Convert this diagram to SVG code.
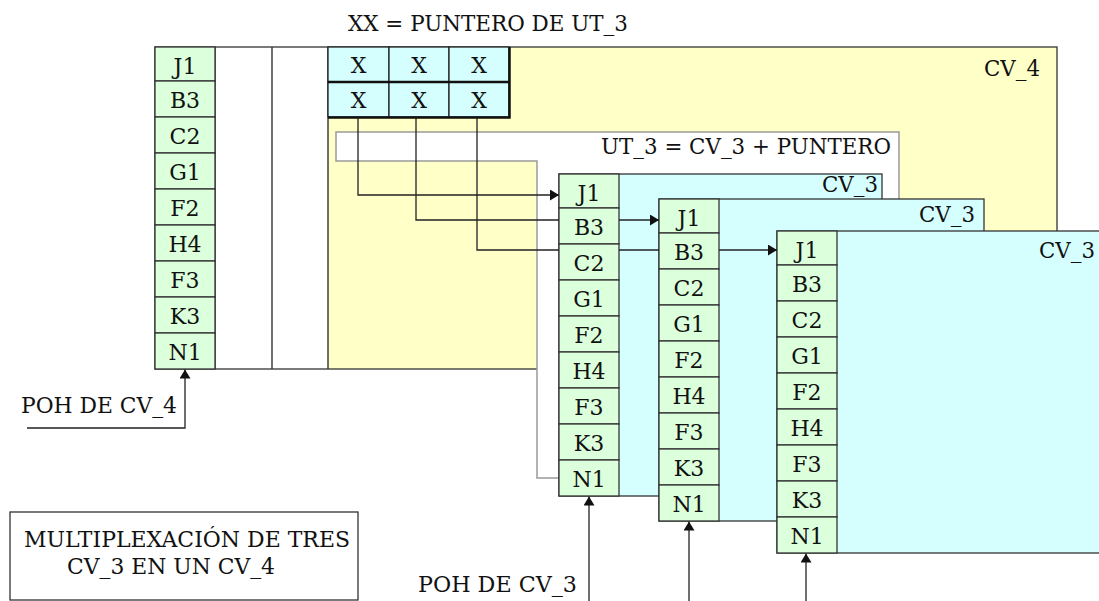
<svg xmlns="http://www.w3.org/2000/svg" width="1099" height="601" viewBox="0 0 1099 601">
<defs>
<marker id="ah" markerUnits="userSpaceOnUse" markerWidth="9" markerHeight="11" viewBox="0 0 9 11" refX="9" refY="5.5" orient="auto"><path d="M0,0 L9,5.5 L0,11 Z" fill="#111"/></marker>
</defs>
<style>
text{font-family:'DejaVu Serif',serif;fill:#111}
.t{font-size:23px}
.c{font-size:22px;text-anchor:middle}
.lbl{font-size:22px;text-anchor:end}
.g{fill:#dcffdc;stroke:#333;stroke-width:1.3}
.cy{fill:#d5ffff;stroke:#333;stroke-width:1.3}
.y{fill:#ffffc8}
.ln{fill:none;stroke:#222;stroke-width:1.3}
.xc{fill:#d5ffff;stroke:#222;stroke-width:1.3}
.sh{fill:none;stroke:#111;stroke-width:2.5}
</style>
<rect width="1099" height="601" fill="#fff"/>
<text id="title" class="t" x="348" y="31" textLength="280" lengthAdjust="spacingAndGlyphs">XX = PUNTERO DE UT_3</text>
<g id="cv4">
<rect x="155" y="47" width="902" height="322" fill="#fff"/>
<rect x="328" y="47" width="729" height="322" class="y"/>
<path d="M215,47V369M272,47V369M328,47V369" class="ln"/>
<rect x="155" y="47" width="902" height="322" fill="none" stroke="#333" stroke-width="1.3"/>
<rect class="g" x="155" y="47" width="60" height="34"/>
<rect class="g" x="155" y="81" width="60" height="36"/>
<rect class="g" x="155" y="117" width="60" height="36"/>
<rect class="g" x="155" y="153" width="60" height="36"/>
<rect class="g" x="155" y="189" width="60" height="36"/>
<rect class="g" x="155" y="225" width="60" height="36"/>
<rect class="g" x="155" y="261" width="60" height="36"/>
<rect class="g" x="155" y="297" width="60" height="36"/>
<rect class="g" x="155" y="333" width="60" height="36"/>
<text class="c" x="185" y="74">J1</text>
<text class="c" x="185" y="108">B3</text>
<text class="c" x="185" y="144">C2</text>
<text class="c" x="185" y="180">G1</text>
<text class="c" x="185" y="216">F2</text>
<text class="c" x="185" y="252">H4</text>
<text class="c" x="185" y="288">F3</text>
<text class="c" x="185" y="324">K3</text>
<text class="c" x="185" y="360">N1</text>
<text class="lbl" x="1040" y="76" textLength="56" lengthAdjust="spacingAndGlyphs">CV_4</text>
</g>
<g id="ptr">
<rect class="xc" x="328" y="47" width="61" height="35"/>
<rect class="xc" x="389" y="47" width="60" height="35"/>
<rect class="xc" x="449" y="47" width="60" height="35"/>
<rect class="xc" x="328" y="82" width="61" height="35"/>
<rect class="xc" x="389" y="82" width="60" height="35"/>
<rect class="xc" x="449" y="82" width="60" height="35"/>
<path class="sh" d="M328,82H510M328,117.5H510.5M509.5,47V118.5"/>
<text class="c" x="358.5" y="73">X</text>
<text class="c" x="419" y="73">X</text>
<text class="c" x="479" y="73">X</text>
<text class="c" x="358.5" y="108">X</text>
<text class="c" x="419" y="108">X</text>
<text class="c" x="479" y="108">X</text>
</g>
<g id="ut3">
<path d="M336,132H899V300H600V478H537V161H336Z" fill="#fff" stroke="#9a9a9a" stroke-width="1.5"/>
<text class="t" x="891" y="154" text-anchor="end" textLength="290" lengthAdjust="spacingAndGlyphs">UT_3 = CV_3 + PUNTERO</text>
</g>
<g id="cv3a" transform="translate(559,174)">
<rect class="cy" x="0" y="0" width="323" height="322"/>
<rect class="g" x="0" y="0" width="60" height="34"/>
<rect class="g" x="0" y="34" width="60" height="36"/>
<rect class="g" x="0" y="70" width="60" height="36"/>
<rect class="g" x="0" y="106" width="60" height="36"/>
<rect class="g" x="0" y="142" width="60" height="36"/>
<rect class="g" x="0" y="178" width="60" height="36"/>
<rect class="g" x="0" y="214" width="60" height="36"/>
<rect class="g" x="0" y="250" width="60" height="36"/>
<rect class="g" x="0" y="286" width="60" height="36"/>
<text class="c" x="30" y="27">J1</text>
<text class="c" x="30" y="61">B3</text>
<text class="c" x="30" y="97">C2</text>
<text class="c" x="30" y="133">G1</text>
<text class="c" x="30" y="169">F2</text>
<text class="c" x="30" y="205">H4</text>
<text class="c" x="30" y="241">F3</text>
<text class="c" x="30" y="277">K3</text>
<text class="c" x="30" y="313">N1</text>
<text class="lbl" x="319" y="18" textLength="56" lengthAdjust="spacingAndGlyphs">CV_3</text>
</g>
<g id="cv3b" transform="translate(659,199)">
<rect class="cy" x="0" y="0" width="325" height="322"/>
<rect class="g" x="0" y="0" width="60" height="34"/>
<rect class="g" x="0" y="34" width="60" height="36"/>
<rect class="g" x="0" y="70" width="60" height="36"/>
<rect class="g" x="0" y="106" width="60" height="36"/>
<rect class="g" x="0" y="142" width="60" height="36"/>
<rect class="g" x="0" y="178" width="60" height="36"/>
<rect class="g" x="0" y="214" width="60" height="36"/>
<rect class="g" x="0" y="250" width="60" height="36"/>
<rect class="g" x="0" y="286" width="60" height="36"/>
<text class="c" x="30" y="27">J1</text>
<text class="c" x="30" y="61">B3</text>
<text class="c" x="30" y="97">C2</text>
<text class="c" x="30" y="133">G1</text>
<text class="c" x="30" y="169">F2</text>
<text class="c" x="30" y="205">H4</text>
<text class="c" x="30" y="241">F3</text>
<text class="c" x="30" y="277">K3</text>
<text class="c" x="30" y="313">N1</text>
<text class="lbl" x="316" y="23" textLength="56" lengthAdjust="spacingAndGlyphs">CV_3</text>
</g>
<g id="cv3c" transform="translate(777,231)">
<rect class="cy" x="0" y="0" width="340" height="322"/>
<rect class="g" x="0" y="0" width="60" height="34"/>
<rect class="g" x="0" y="34" width="60" height="36"/>
<rect class="g" x="0" y="70" width="60" height="36"/>
<rect class="g" x="0" y="106" width="60" height="36"/>
<rect class="g" x="0" y="142" width="60" height="36"/>
<rect class="g" x="0" y="178" width="60" height="36"/>
<rect class="g" x="0" y="214" width="60" height="36"/>
<rect class="g" x="0" y="250" width="60" height="36"/>
<rect class="g" x="0" y="286" width="60" height="36"/>
<text class="c" x="30" y="27">J1</text>
<text class="c" x="30" y="61">B3</text>
<text class="c" x="30" y="97">C2</text>
<text class="c" x="30" y="133">G1</text>
<text class="c" x="30" y="169">F2</text>
<text class="c" x="30" y="205">H4</text>
<text class="c" x="30" y="241">F3</text>
<text class="c" x="30" y="277">K3</text>
<text class="c" x="30" y="313">N1</text>
<text class="lbl" x="318" y="27" textLength="56" lengthAdjust="spacingAndGlyphs">CV_3</text>
</g>
<g id="connectors">
<path class="ln" d="M358,118V195H559" marker-end="url(#ah)"/>
<path class="ln" d="M416,118V220H559"/>
<path class="ln" d="M619,220H659" marker-end="url(#ah)"/>
<path class="ln" d="M477,118V250H559"/>
<path class="ln" d="M619,250H659"/>
<path class="ln" d="M719,250H777" marker-end="url(#ah)"/>
<path class="ln" d="M27,428H185V369.5" marker-end="url(#ah)"/>
<path class="ln" d="M589,601V496.5" marker-end="url(#ah)"/>
<path class="ln" d="M689,601V521.5" marker-end="url(#ah)"/>
<path class="ln" d="M806,601V553.5" marker-end="url(#ah)"/>
</g>
<text id="poh4" class="t" x="21" y="413" textLength="156" lengthAdjust="spacingAndGlyphs">POH DE CV_4</text>
<text id="poh3" class="t" x="418" y="592" textLength="159" lengthAdjust="spacingAndGlyphs">POH DE CV_3</text>
<g id="caption">
<rect x="10" y="512" width="348" height="88" fill="none" stroke="#333" stroke-width="1.3"/>
<text class="t" x="24" y="547" textLength="326" lengthAdjust="spacingAndGlyphs">MULTIPLEXACIÓN DE TRES</text>
<text class="t" x="67" y="574" textLength="208" lengthAdjust="spacingAndGlyphs">CV_3 EN UN CV_4</text>
</g>
</svg>
